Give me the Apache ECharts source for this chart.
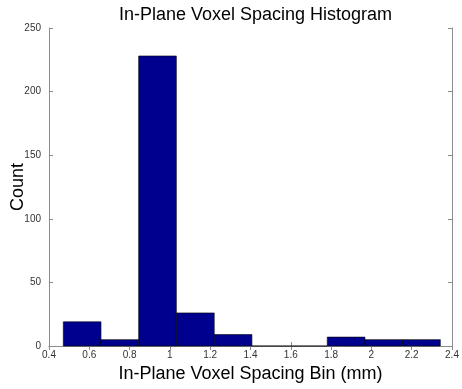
<!DOCTYPE html>
<html><head><meta charset="utf-8">
<script src="https://cdn.jsdelivr.net/npm/echarts@6/dist/echarts.min.js"></script>
<style>html,body{margin:0;padding:0;background:#fff}#c{width:462px;height:389px}</style>
</head><body><div id="c"></div>
<script>
var binStarts = [0.471, 0.658, 0.845, 1.032, 1.220, 1.407, 1.594, 1.781, 1.968, 2.155];
var binEnds   = [0.658, 0.845, 1.032, 1.220, 1.407, 1.594, 1.781, 1.968, 2.155, 2.342];
var counts    = [19, 5, 228, 26, 9, 0, 0, 7, 5, 5];
var xTicks = [0.4, 0.6, 0.8, 1, 1.2, 1.4, 1.6, 1.8, 2, 2.2, 2.4];
var yTicks = [0, 50, 100, 150, 200, 250];

var data = binStarts.map(function(s, i){ return [s, binEnds[i], counts[i]]; });
var chart = echarts.init(document.getElementById('c'));
var font = 'Liberation Sans, Arial, Helvetica, sans-serif';
var axisLineColor = '#8c8c8c';
var labelStyle = {color:'#333', fontSize:10, fontFamily:font};
chart.setOption({
  animation:false,
  backgroundColor:'#fff',
  title:{text:'In-Plane Voxel Spacing Histogram', left:250.5, textAlign:'center', top:1,
    textStyle:{fontSize:18, fontWeight:'normal', color:'#000', fontFamily:font}},
  grid:{left:49, right:10, top:28, bottom:43, show:false, containLabel:false, outerBoundsMode:'none'},
  xAxis:[{
    type:'value', min:0.4, max:2.4, interval:0.2,
    name:'In-Plane Voxel Spacing Bin (mm)', nameLocation:'middle', nameGap:19, nameMoveOverlap:false,
    nameTextStyle:{fontSize:18, color:'#000', fontFamily:font},
    axisLine:{show:true, lineStyle:{color:axisLineColor}},
    axisTick:{show:true, inside:true, length:4, lineStyle:{color:axisLineColor}},
    axisLabel:Object.assign({margin:4, formatter:function(v){return String(Math.round(v*10)/10);}}, labelStyle),
    splitLine:{show:false}
  },{
    type:'value', position:'top', min:0.4, max:2.4, interval:0.2,
    axisLine:{show:true, lineStyle:{color:axisLineColor}},
    axisTick:{show:true, inside:true, length:4, lineStyle:{color:axisLineColor}},
    axisLabel:{show:false}, splitLine:{show:false}
  }],
  yAxis:[{
    type:'value', min:0, max:250, interval:50,
    name:'Count', nameLocation:'middle', nameGap:22, nameMoveOverlap:false,
    nameTextStyle:{fontSize:18, color:'#000', fontFamily:font},
    axisLine:{show:true, lineStyle:{color:axisLineColor}},
    axisTick:{show:true, inside:true, length:4, lineStyle:{color:axisLineColor}},
    axisLabel:Object.assign({margin:8}, labelStyle),
    splitLine:{show:false}
  },{
    type:'value', position:'right', min:0, max:250, interval:50,
    axisLine:{show:true, lineStyle:{color:axisLineColor}},
    axisTick:{show:true, inside:true, length:4, lineStyle:{color:axisLineColor}},
    axisLabel:{show:false}, splitLine:{show:false}
  }],
  series:[{
    type:'custom', xAxisIndex:0, yAxisIndex:0,
    encode:{x:[0,1], y:2},
    data:data,
    renderItem:function(params, api){
      var p0 = api.coord([api.value(0), 0]);
      var p1 = api.coord([api.value(1), api.value(2)]);
      return {type:'rect', shape:{x:p0[0], y:p1[1], width:p1[0]-p0[0], height:p0[1]-p1[1]},
        style:{fill:'#00008F', stroke:'#000', lineWidth:0.6}};
    }
  }]
});
</script></body></html>
